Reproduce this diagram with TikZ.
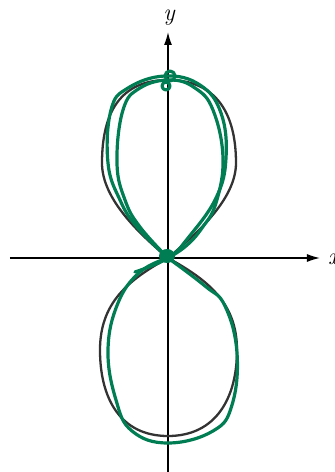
\documentclass[tikz,border=0pt]{standalone}
\usepackage{amsmath}
\usetikzlibrary{arrows.meta}
\definecolor{penGreen}{RGB}{0,125,82}

\begin{document}
\begin{tikzpicture}[x=1pt, y=1pt,
    axis/.style={line width=1.3pt, -{Latex[length=13pt,width=8pt]}},
    lobe/.style={line width=2.3pt, black!80},
    trace/.style={line width=3.2pt, penGreen, line cap=round, line join=round},
    lbl/.style={font=\fontsize{24}{28}\selectfont\itshape, inner sep=0pt}]
    \useasboundingbox (-168,-214) rectangle (167,258);

    % axes
    \coordinate (O) at (0,0);
    \coordinate (xl) at (-158,0);
    \coordinate (xr) at (152,0);
    \coordinate (yb) at (0,-214);
    \coordinate (yt) at (0,226);
    \draw[axis] (xl) -- (xr);
    \draw[axis] (yb) -- (yt);
    \node[lbl, anchor=west] (xlab) at (160,-1) {x};
    \node[lbl] (ylab) at (1,240) {y};

    % printed curve
    \draw[lobe] (O) .. controls (27,23) and (68,58) .. (68,95)
        .. controls (68,145) and (48,178) .. (0,178)
        .. controls (-48,178) and (-66,145) .. (-66,95)
        .. controls (-66,58) and (-27,23) .. (O);
    \draw[lobe] (O) .. controls (40,-22) and (69,-45) .. (69,-92)
        .. controls (69,-140) and (48,-178) .. (0,-178)
        .. controls (-48,-178) and (-68,-140) .. (-68,-92)
        .. controls (-68,-45) and (-40,-22) .. (O);

    % green sketch, upper loops
    \draw[trace] plot[smooth, tension=0.7] coordinates {(0,0) (-31,31) (-48,58)
        (-60,95) (-57,148) (-40,170) (-3,182) (32,173) (53,145)
        (58,100) (48,60) (20,20) (0,0) (-33,-14)};
    \draw[trace] plot[smooth, tension=0.7] coordinates {(0,0) (-28,31) (-43,58)
        (-51,95) (-45,148) (-28,170) (2,178) (27,170) (45,148)
        (55,100) (48,55) (34,30) (18,12) (0,0)};
    \draw[trace] (2,182) circle (5);
    \draw[trace] (-2,172) circle (4);

    % green sketch, lower loop
    \draw[trace] plot[smooth, tension=0.7] coordinates {(0,0) (-28,-14)
        (-50,-45) (-60,-92) (-52,-142) (-36,-173) (0,-185) (45,-173)
        (64,-147) (69,-95) (57,-48) (37,-28) (0,0)};
    \fill[penGreen] (-1,2) ellipse (8 and 7);
\end{tikzpicture}
\end{document}
